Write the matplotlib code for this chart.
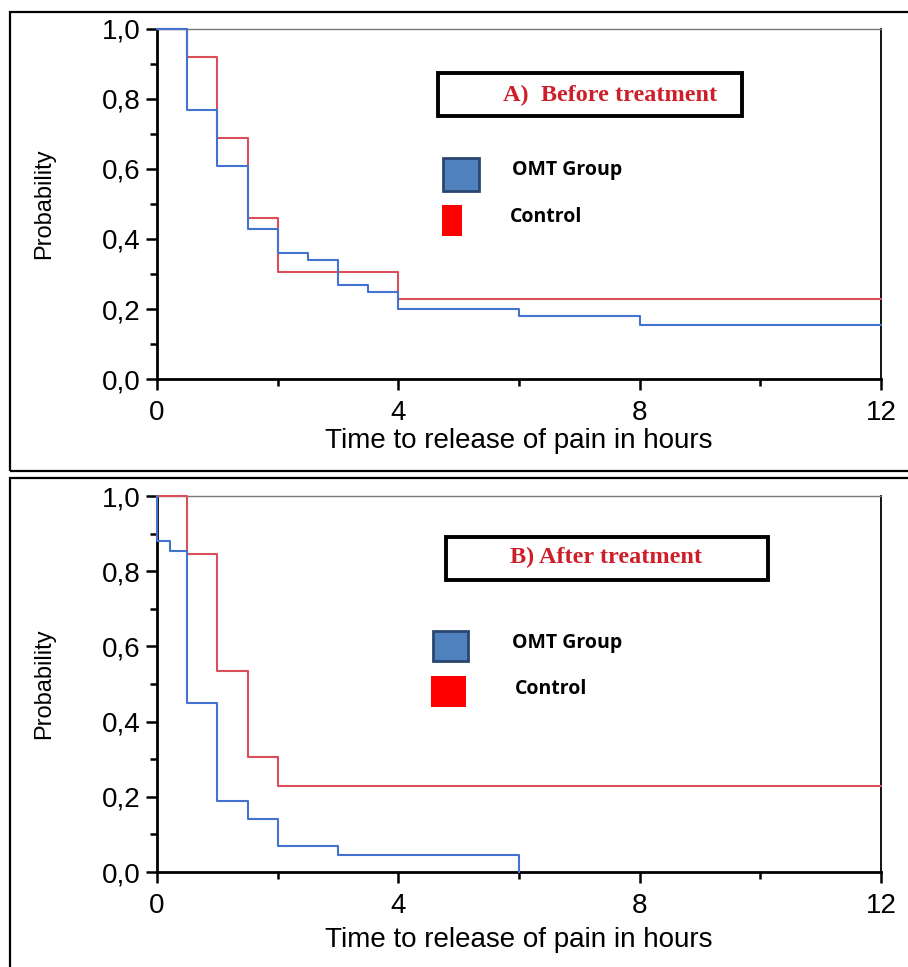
import matplotlib
matplotlib.use("Agg")
import matplotlib.pyplot as plt
from matplotlib.patches import Rectangle
from matplotlib.ticker import MultipleLocator, FixedLocator

# --- data ---
# A) before treatment
a_omt_t = [0, 0.5, 1.0, 1.5, 2.0, 2.5, 3.0, 3.5, 4.0, 6.0, 8.0, 12]
a_omt_p = [1.0, 0.77, 0.61, 0.43, 0.36, 0.34, 0.27, 0.25, 0.20, 0.18, 0.155, 0.155]
a_ctl_t = [0, 0.5, 1.0, 1.5, 2.0, 4.0, 12]
a_ctl_p = [1.0, 0.92, 0.69, 0.46, 0.305, 0.23, 0.23]
# B) after treatment
b_omt_t = [0, 0, 0.22, 0.5, 1.0, 1.5, 2.0, 3.0, 6.0]
b_omt_p = [1.0, 0.88, 0.855, 0.45, 0.19, 0.14, 0.07, 0.045, 0.0]
b_ctl_t = [0, 0.5, 1.0, 1.5, 2.0, 12]
b_ctl_p = [1.0, 0.845, 0.535, 0.305, 0.23, 0.23]

x_ticks = [0, 4, 8, 12]
y_ticks = [0.0, 0.2, 0.4, 0.6, 0.8, 1.0]
y_labels = ["0,0", "0,2", "0,4", "0,6", "0,8", "1,0"]

BLUE = "#4472d0"
RED = "#d9505a"
W, H = 908, 967

fig = plt.figure(figsize=(W / 100, H / 100), dpi=100)
plt.rcParams['font.family'] = ['Liberation Sans', 'DejaVu Sans']


def fx(px):
    return px / W


def fy(py):
    return 1 - py / H


def panel(top, bottom, xlab_y, omt_t, omt_p, ctl_t, ctl_p):
    ax = fig.add_axes([fx(157), fy(bottom), fx(881) - fx(157), fy(top) - fy(bottom)])
    ax.plot(ctl_t, ctl_p, drawstyle="steps-post", color=RED, lw=1.5, clip_on=False, zorder=3)
    ax.plot(omt_t, omt_p, drawstyle="steps-post", color=BLUE, lw=1.5, clip_on=False, zorder=3.1)
    ax.set_xlim(0, 12)
    ax.set_ylim(0, 1.0)
    ax.set_xticks(x_ticks)
    ax.xaxis.set_minor_locator(FixedLocator([2, 6, 10]))
    ax.set_yticks(y_ticks)
    ax.set_yticklabels(y_labels)
    ax.yaxis.set_minor_locator(MultipleLocator(0.1))
    ax.tick_params(which="major", direction="out", length=8, width=1.8, labelsize=20, pad=4)
    ax.tick_params(axis="x", which="major", pad=7)
    ax.tick_params(which="minor", direction="out", length=5, width=1.8)
    for s in ["left", "bottom"]:
        ax.spines[s].set_linewidth(2)
        ax.spines[s].set_color("black")
    ax.spines["top"].set_color("#777777")
    ax.spines["top"].set_linewidth(1)
    ax.spines["right"].set_color("black")
    ax.spines["right"].set_linewidth(1.3)
    h = bottom - top
    ax.set_xlabel("Time to release of pain in hours", fontsize=20, va="center")
    ax.xaxis.set_label_coords(0.5, (bottom - xlab_y) / h)
    ax.set_ylabel("Probability", fontsize=17, va="center")
    ax.yaxis.set_label_coords((44 - 157) / 724, 0.5)
    return ax


ax1 = panel(29, 379, 441, a_omt_t, a_omt_p, a_ctl_t, a_ctl_p)
ax2 = panel(496, 872, 940, b_omt_t, b_omt_p, b_ctl_t, b_ctl_p)


def rect_px(x0, y0, x1, y1, **kw):
    fig.patches.append(Rectangle((fx(x0), fy(y1)), fx(x1) - fx(x0), fy(y0) - fy(y1),
                                 transform=fig.transFigure, figure=fig, **kw))


# outer frames around the panels
rect_px(10, 12, 912, 471, fill=False, ec="black", lw=1.6)
rect_px(10, 478, 912, 972, fill=False, ec="black", lw=1.6)

# title boxes
rect_px(438, 73, 742, 116, fill=True, fc="white", ec="black", lw=2.8)
fig.text(fx(610), fy(95), "A)  Before treatment", color="#cc1f2a", fontsize=17.5,
         fontweight="bold", family="Liberation Serif", ha="center", va="center")
rect_px(446, 537, 768, 580, fill=True, fc="white", ec="black", lw=2.8)
fig.text(fx(606), fy(557), "B) After treatment", color="#cc1f2a", fontsize=17.5,
         fontweight="bold", family="Liberation Serif", ha="center", va="center")

# legend markers and labels
rect_px(443, 158, 479, 191, fc="#4f81bd", ec="#2a4670", lw=2)
rect_px(442, 205, 462, 236, fc="#ff0000", ec="none")
fig.text(fx(512), fy(170), "OMT Group", fontsize=14, fontweight="bold",
         family="Open Sans", ha="left", va="center")
fig.text(fx(510), fy(217), "Control", fontsize=14, fontweight="bold",
         family="Open Sans", ha="left", va="center")

rect_px(433, 631, 468, 661, fc="#4f81bd", ec="#2a4670", lw=2)
rect_px(431, 676, 466, 707, fc="#ff0000", ec="none")
fig.text(fx(512), fy(643), "OMT Group", fontsize=14, fontweight="bold",
         family="Open Sans", ha="left", va="center")
fig.text(fx(515), fy(689), "Control", fontsize=14, fontweight="bold",
         family="Open Sans", ha="left", va="center")

fig.savefig("out.png", dpi=100)
